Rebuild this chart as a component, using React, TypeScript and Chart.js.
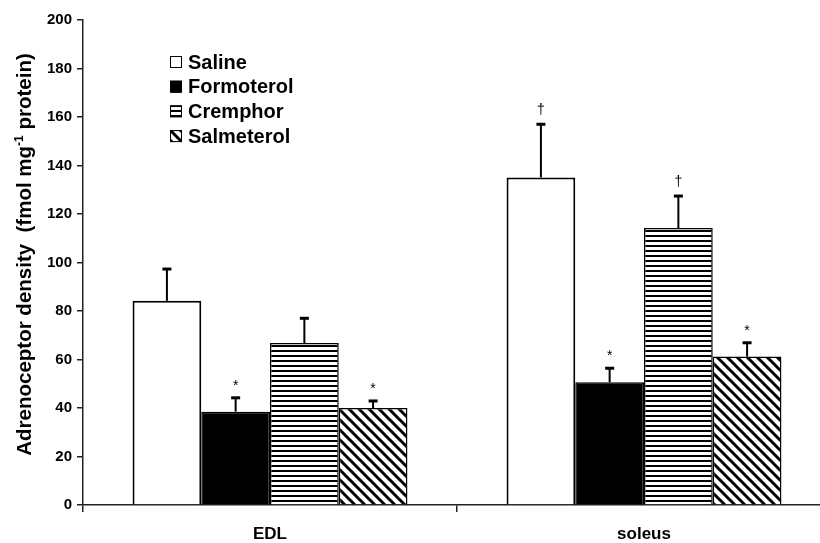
import React, { useEffect, useRef } from "react";
import { Chart, registerables } from "chart.js";

Chart.register(...registerables);

const categories = ["EDL", "soleus"];
const seriesNames = ["Saline", "Formoterol", "Cremphor", "Salmeterol"];

const salineValues = [84.2, 135.1];
const formoterolValues = [38.5, 50.6];
const cremphorValues = [66.8, 114.2];
const salmeterolValues = [40.0, 61.2];

const salineErrors = [13.1, 21.9];
const formoterolErrors = [5.7, 5.8];
const cremphorErrors = [10.2, 13.2];
const salmeterolErrors = [2.9, 5.7];

const salineMarks = ["", "†"];
const formoterolMarks = ["*", "*"];
const cremphorMarks = ["", "†"];
const salmeterolMarks = ["*", "*"];

const yMin = 0;
const yMax = 200;
const yStep = 20;

const yTitleMain = "Adrenoceptor density  (fmol mg";
const yTitleSup = "-1";
const yTitleEnd = " protein)";

const FONT = "Arial, 'Liberation Sans', Helvetica, sans-serif";

function makeHStripe(ctx: CanvasRenderingContext2D) {
  const c = document.createElement("canvas");
  c.width = 5;
  c.height = 5;
  const g = c.getContext("2d")!;
  g.fillStyle = "#fff";
  g.fillRect(0, 0, 5, 5);
  g.fillStyle = "#000";
  g.fillRect(0, 0, 5, 2);
  return ctx.createPattern(c, "repeat")!;
}

function makeDiag(ctx: CanvasRenderingContext2D) {
  const s = 10;
  const c = document.createElement("canvas");
  c.width = s;
  c.height = s;
  const g = c.getContext("2d")!;
  g.fillStyle = "#fff";
  g.fillRect(0, 0, s, s);
  g.strokeStyle = "#000";
  g.lineWidth = 3;
  g.beginPath();
  g.moveTo(-2, -2);
  g.lineTo(s + 2, s + 2);
  g.moveTo(-2, s - 2);
  g.lineTo(2, s + 2);
  g.moveTo(s - 2, -2);
  g.lineTo(s + 2, 2);
  g.stroke();
  return ctx.createPattern(c, "repeat")!;
}

export default function App() {
  const ref = useRef<HTMLCanvasElement | null>(null);

  useEffect(() => {
    const canvas = ref.current!;
    const ctx0 = canvas.getContext("2d")!;
    const hStripe = makeHStripe(ctx0);
    const diag = makeDiag(ctx0);

    const errorSets = [salineErrors, formoterolErrors, cremphorErrors, salmeterolErrors];
    const markSets = [salineMarks, formoterolMarks, cremphorMarks, salmeterolMarks];

    const errorPlugin = {
      id: "errorBars",
      afterDatasetsDraw(chart: any) {
        const ctx = chart.ctx as CanvasRenderingContext2D;
        const y = chart.scales.y;
        ctx.save();
        chart.data.datasets.forEach((ds: any, di: number) => {
          const meta = chart.getDatasetMeta(di);
          meta.data.forEach((bar: any, i: number) => {
            const v = ds.data[i] as number;
            const e = errorSets[di][i];
            const base = y.getPixelForValue(v);
            const top = y.getPixelForValue(v + e);
            const x = bar.x;
            ctx.strokeStyle = "#000";
            ctx.lineWidth = 2;
            ctx.beginPath();
            ctx.moveTo(x, base);
            ctx.lineTo(x, top);
            ctx.stroke();
            ctx.fillStyle = "#000";
            ctx.fillRect(x - 4.5, top - 1.5, 9, 3);
            const m = markSets[di][i];
            if (m) {
              ctx.font = `14px ${FONT}`;
              ctx.textAlign = "center";
              ctx.textBaseline = "alphabetic";
              ctx.fillText(m, x, m === "*" ? top - 8 : top - 10);
            }
          });
        });
        ctx.restore();
      },
    };

    const legendPlugin = {
      id: "customLegend",
      afterDraw(chart: any) {
        const ctx = chart.ctx as CanvasRenderingContext2D;
        const area = chart.chartArea;
        const bx = area.left + 87;
        const y0 = area.top + 42;
        const gap = 24.7;
        ctx.save();
        chart.data.datasets.forEach((ds: any, i: number) => {
          const cy = y0 + i * gap;
          ctx.fillStyle = ds.backgroundColor;
          ctx.fillRect(bx, cy - 6, 12, 12);
          ctx.strokeStyle = "#000";
          ctx.lineWidth = 1;
          ctx.strokeRect(bx + 0.5, cy - 5.5, 11, 11);
          ctx.fillStyle = "#000";
          ctx.font = `bold 20px ${FONT}`;
          ctx.textAlign = "left";
          ctx.textBaseline = "middle";
          ctx.fillText(ds.label, bx + 18, cy + 1);
        });
        ctx.restore();
      },
    };

    const yTitlePlugin = {
      id: "yTitle",
      afterDraw(chart: any) {
        const ctx = chart.ctx as CanvasRenderingContext2D;
        const area = chart.chartArea;
        const cy = (area.top + area.bottom) / 2 - 8;
        const big = `bold 20.5px ${FONT}`;
        const small = `bold 12px ${FONT}`;
        ctx.save();
        ctx.font = big;
        const w1 = ctx.measureText(yTitleMain).width;
        const w3 = ctx.measureText(yTitleEnd).width;
        ctx.font = small;
        const w2 = ctx.measureText(yTitleSup).width;
        const total = w1 + w2 + w3;
        ctx.translate(31, cy);
        ctx.rotate(-Math.PI / 2);
        ctx.fillStyle = "#000";
        ctx.textAlign = "left";
        ctx.textBaseline = "alphabetic";
        let x = -total / 2;
        ctx.font = big;
        ctx.fillText(yTitleMain, x, 0);
        x += w1;
        ctx.font = small;
        ctx.fillText(yTitleSup, x, -8);
        x += w2;
        ctx.font = big;
        ctx.fillText(yTitleEnd, x, 0);
        ctx.restore();
      },
    };

    const fills = ["#ffffff", "#000000", hStripe, diag];
    const valueSets = [salineValues, formoterolValues, cremphorValues, salmeterolValues];

    const chart = new Chart(canvas, {
      type: "bar",
      data: {
        labels: categories,
        datasets: seriesNames.map((name, i) => ({
          label: name,
          data: valueSets[i],
          backgroundColor: fills[i] as any,
          borderColor: "#000",
          borderWidth: i === 0 ? 2 : 1.5,
          borderSkipped: "start",
          barPercentage: 1,
          categoryPercentage: 0.735,
        })),
      },
      options: {
        responsive: false,
        animation: false,
        devicePixelRatio: 1,
        layout: { padding: { top: 20, right: 9, left: 0, bottom: 0 } },
        plugins: {
          legend: { display: false },
          tooltip: { enabled: false },
        },
        scales: {
          x: {
            offset: true,
            grid: {
              display: true,
              drawOnChartArea: false,
              drawTicks: true,
              tickLength: 7,
              color: "#222",
              lineWidth: 1.5,
              offset: true,
            },
            border: { display: true, color: "#222", width: 1.5 },
            ticks: {
              color: "#000",
              font: { family: FONT, weight: "bold", size: 17 },
              padding: 12,
            },
            afterFit: (s: any) => {
              s.height = 38;
            },
          },
          y: {
            min: yMin,
            max: yMax,
            ticks: {
              stepSize: yStep,
              color: "#000",
              font: { family: FONT, weight: "bold", size: 15 },
              padding: 5,
            },
            grid: {
              display: true,
              drawOnChartArea: false,
              drawTicks: true,
              tickLength: 6,
              color: "#222",
              lineWidth: 1.5,
            },
            border: { display: true, color: "#222", width: 1.5 },
            afterFit: (s: any) => {
              s.width = 83;
            },
          },
        },
      },
      plugins: [errorPlugin, legendPlugin, yTitlePlugin],
    });

    return () => chart.destroy();
  }, []);

  return (
    <div
      style={{
        position: "fixed",
        left: 0,
        top: 0,
        width: 820,
        height: 543,
        overflow: "hidden",
        background: "#fff",
      }}
    >
      <canvas ref={ref} width={840} height={543} style={{ display: "block" }} />
    </div>
  );
}
